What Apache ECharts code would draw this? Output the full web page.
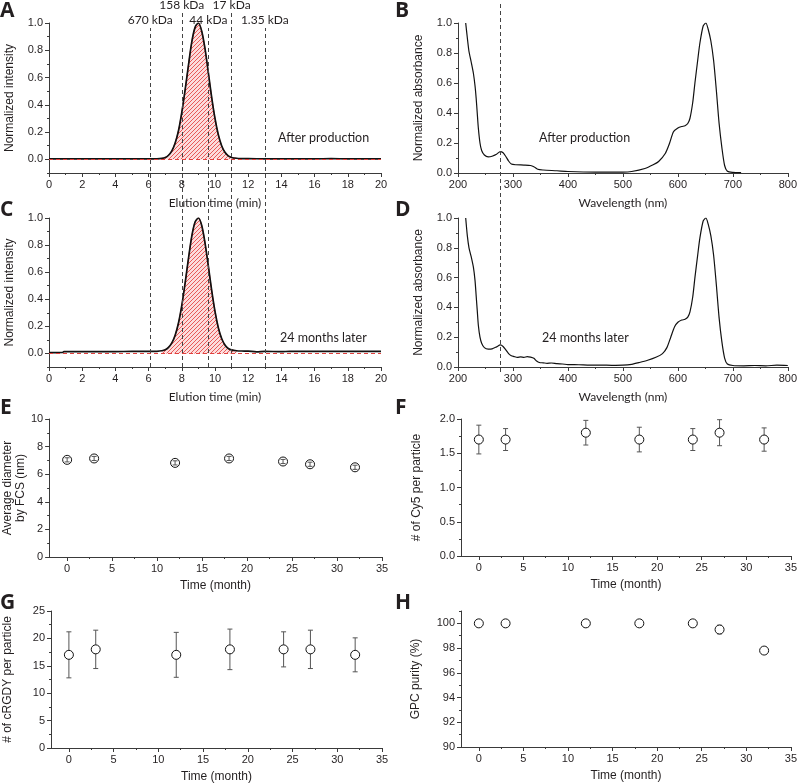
<!DOCTYPE html>
<html><head><meta charset="utf-8">
<script src="https://cdn.jsdelivr.net/npm/echarts@6/dist/echarts.min.js"></script>
<style>html,body{margin:0;padding:0;background:#fff}#c{width:800px;height:784px}</style>
</head><body><div id="c"></div>
<script>
// ---------------- DATA ----------------
// Panel A: GPC elution trace, after production  [time (min), normalized intensity]
const elutionAfter = [[0,0.003],[1,0.003],[2,0.003],[3,0.003],[4,0.003],[5,0.003],[6,0.003],[6.5,0.004],[6.8,0.007],[7.0,0.013],[7.2,0.03],[7.4,0.062],[7.6,0.12],[7.8,0.21],[8.0,0.345],[8.2,0.51],[8.4,0.69],[8.6,0.86],[8.8,0.968],[9.0,1.0],[9.2,0.94],[9.4,0.81],[9.6,0.635],[9.8,0.455],[10.0,0.30],[10.2,0.18],[10.4,0.10],[10.6,0.052],[10.8,0.026],[11.0,0.014],[11.3,0.008],[11.6,0.006],[12,0.005],[13,0.004],[14,0.004],[15,0.004],[16,0.004],[17,0.005],[18,0.004],[19,0.004],[20,0.004]];
// Panel C: GPC elution trace, 24 months later
const elution24 = [[0,0.006],[0.4,0.006],[0.8,0.007],[0.9,0.013],[2,0.013],[3,0.014],[4,0.014],[5,0.015],[6,0.015],[6.5,0.016],[6.8,0.02],[7.0,0.027],[7.2,0.045],[7.4,0.078],[7.6,0.135],[7.8,0.225],[8.0,0.355],[8.2,0.52],[8.4,0.70],[8.6,0.865],[8.8,0.97],[9.0,1.0],[9.2,0.945],[9.4,0.815],[9.6,0.645],[9.8,0.465],[10.0,0.31],[10.2,0.19],[10.4,0.11],[10.6,0.062],[10.8,0.037],[11.0,0.026],[11.3,0.02],[11.6,0.018],[12,0.017],[12.5,0.012],[13,0.016],[14,0.013],[14.5,0.016],[15,0.015],[16,0.015],[17,0.015],[18,0.015],[19,0.015],[20,0.015]];
const peakWindow = [6.8, 11.3];
// Molecular weight standards (elution time, label, label row: 1 = upper)
const mwTimes = [6.1, 8.0, 9.6, 11.0, 13.0];
const mwLabels = ['670 kDa', '158 kDa', '44 kDa', '17 kDa', '1.35 kDa'];
const mwRow = [0, 1, 0, 1, 0];
// Panel B / D: absorbance spectra [wavelength (nm), normalized absorbance]
const spectrumAfter = [[214,1.0],[217,0.9],[220,0.81],[224,0.74],[228,0.665],[231,0.58],[233,0.5],[235,0.4],[237,0.3],[240,0.2],[243,0.15],[248,0.12],[255,0.108],[262,0.112],[270,0.125],[277,0.143],[282,0.135],[287,0.11],[292,0.08],[297,0.06],[305,0.055],[320,0.053],[332,0.05],[338,0.042],[345,0.025],[355,0.02],[380,0.015],[400,0.01],[450,0.006],[500,0.006],[516,0.01],[540,0.03],[555,0.055],[565,0.077],[577,0.13],[585,0.2],[592,0.275],[600,0.3],[607,0.31],[613,0.315],[618,0.33],[622,0.365],[627,0.47],[631,0.6],[636,0.75],[640,0.865],[646,0.98],[651,1.0],[655,0.96],[660,0.88],[665,0.75],[670,0.55],[675,0.33],[680,0.17],[685,0.05],[690,0.012],[700,0.004],[715,0.002]];
const spectrum24 = [[214,1.0],[217,0.88],[220,0.8],[224,0.74],[228,0.67],[231,0.58],[233,0.48],[235,0.38],[237,0.28],[240,0.2],[243,0.16],[248,0.13],[255,0.12],[262,0.122],[270,0.135],[277,0.148],[282,0.138],[287,0.115],[292,0.09],[297,0.075],[302,0.07],[308,0.065],[314,0.068],[320,0.064],[326,0.07],[332,0.066],[338,0.058],[343,0.04],[348,0.03],[355,0.028],[362,0.025],[370,0.027],[380,0.022],[390,0.02],[400,0.016],[420,0.015],[440,0.012],[460,0.013],[480,0.011],[500,0.012],[516,0.018],[530,0.03],[545,0.045],[560,0.065],[572,0.09],[580,0.13],[587,0.2],[594,0.27],[600,0.3],[607,0.315],[613,0.32],[618,0.335],[622,0.37],[627,0.47],[631,0.6],[636,0.75],[640,0.865],[646,0.98],[651,1.0],[655,0.96],[660,0.88],[665,0.75],[670,0.55],[675,0.33],[680,0.17],[685,0.06],[690,0.02],[700,0.01],[720,0.008],[740,0.01],[760,0.008],[780,0.012],[800,0.01]];
const uvMarker = [277];
// Panels E-H: stability over time
const months = [0, 3, 12, 18, 24, 27, 32];
const diameter = [7.04, 7.14, 6.82, 7.14, 6.92, 6.72, 6.50];
const diameterErr = [0.15, 0.15, 0.15, 0.15, 0.15, 0.15, 0.15];
const cy5 = [1.7, 1.7, 1.8, 1.7, 1.7, 1.8, 1.7];
const cy5Err = [0.21, 0.16, 0.18, 0.18, 0.16, 0.19, 0.17];
const crgdy = [17, 18, 17, 18, 18, 18, 17];
const crgdyErr = [4.2, 3.5, 4.1, 3.7, 3.2, 3.5, 3.1];
const purity = [100, 100, 100, 100, 100, 99.5, 97.8];
const purityErr = [0, 0, 0, 0, 0, 0.35, 0.15];
// Tick labels
const elutionTicks = [0,2,4,6,8,10,12,14,16,18,20];
const elutionMinor = [1,3,5,7,9,11,13,15,17,19];
const intensityTicks = [0,0.2,0.4,0.6,0.8,1.0];
const intensityMinor = [-0.1,0.1,0.3,0.5,0.7,0.9];
const wavelengthTicks = [200,300,400,500,600,700,800];
const wavelengthMinor = [250,350,450,550,650,750];
const absorbTicks = [0,0.2,0.4,0.6,0.8,1.0];
const absorbMinor = [0.1,0.3,0.5,0.7,0.9];
const monthTicks = [0,5,10,15,20,25,30,35];
const monthMinor = [2.5,7.5,12.5,17.5,22.5,27.5,32.5];
const diameterTicks = [0,2,4,6,8,10];
const diameterMinor = [1,3,5,7,9];
const cy5Ticks = [0,0.5,1.0,1.5,2.0];
const cy5Minor = [0.25,0.75,1.25,1.75];
const crgdyTicks = [0,5,10,15,20,25];
const crgdyMinor = [2.5,7.5,12.5,17.5,22.5];
const purityTicks = [90,92,94,96,98,100];
const purityMinor = [91,93,95,97,99,101];

// ---------------- CHART ----------------
const FONT = 'Liberation Sans';
const HUM = 'Lato';
const INK = '#231f20';
const AX = '#3a3a3a';

function makeHatch() {
  const c = document.createElement('canvas');
  c.width = 4; c.height = 4;
  const g = c.getContext('2d');
  g.fillStyle = '#fcdcdc'; g.fillRect(0, 0, 4, 4);
  g.strokeStyle = '#e85a58'; g.lineWidth = 1;
  g.beginPath();
  g.moveTo(0, 4); g.lineTo(4, 0);
  g.moveTo(-1, 1); g.lineTo(1, -1);
  g.moveTo(3, 5); g.lineTo(5, 3);
  g.stroke();
  return c;
}
const hatch = {image: makeHatch(), repeat: 'repeat'};

const grids = [], xAxes = [], yAxes = [], series = [];

function mainAxis(gi, a, dim) {
  return {
    type: 'value', gridIndex: gi, min: a.min, max: a.max,
    position: dim === 'x' ? 'bottom' : 'left',
    axisLine: {show: true, onZero: false, lineStyle: {color: AX, width: 1}},
    axisTick: {show: true, inside: false, length: 4, customValues: a.major, lineStyle: {color: AX, width: 1}},
    axisLabel: {show: true, customValues: a.major, formatter: a.fmt, fontFamily: FONT, fontSize: 11, color: INK, margin: 6},
    splitLine: {show: false},
    name: a.name, nameLocation: 'middle', nameGap: a.gap, nameRotate: dim === 'y' ? 90 : 0,
    nameTextStyle: {fontFamily: a.nameFont || FONT, fontSize: 12, color: INK, lineHeight: 13}
  };
}
function minorAxis(gi, a, dim) {
  return {
    type: 'value', gridIndex: gi, min: a.min, max: a.max,
    position: dim === 'x' ? 'bottom' : 'left',
    axisLine: {show: false, onZero: false},
    axisTick: {show: true, inside: false, length: 2, customValues: a.minor, lineStyle: {color: AX, width: 1}},
    axisLabel: {show: false},
    splitLine: {show: false}
  };
}
function panel(box, xa, ya) {
  const gi = grids.length;
  grids.push({left: box[0], top: box[1], width: box[2] - box[0], height: box[3] - box[1]});
  const xi = xAxes.length, yi = yAxes.length;
  xAxes.push(mainAxis(gi, xa, 'x')); xAxes.push(minorAxis(gi, xa, 'x'));
  yAxes.push(mainAxis(gi, ya, 'y')); yAxes.push(minorAxis(gi, ya, 'y'));
  return {gi, xi, yi};
}
function overlay(box, xmin, xmax) {
  const gi = grids.length;
  grids.push({left: box[0], top: box[1], width: box[2] - box[0], height: box[3] - box[1]});
  const xi = xAxes.length, yi = yAxes.length;
  xAxes.push({type: 'value', gridIndex: gi, min: xmin, max: xmax, show: false});
  yAxes.push({type: 'value', gridIndex: gi, min: 0, max: 1, show: false});
  return {gi, xi, yi};
}

const f1 = v => v.toFixed(1);
const f0 = v => String(v);

function elutionPanel(box, data) {
  const p = panel(box,
    {min: 0, max: 20, major: elutionTicks, minor: elutionMinor, fmt: f0, name: 'Elution time (min)', gap: 24, nameFont: HUM},
    {min: -0.1, max: 1.0, major: intensityTicks, minor: intensityMinor, fmt: f1, name: 'Normalized intensity', gap: 33});
  series.push({
    type: 'line', xAxisIndex: p.xi, yAxisIndex: p.yi, z: 2, silent: true,
    data: data.filter(d => d[0] >= peakWindow[0] && d[0] <= peakWindow[1]),
    showSymbol: false, smooth: 0.3,
    lineStyle: {width: 1, color: '#e0403e'},
    areaStyle: {color: hatch, origin: 0, opacity: 1},
    markLine: {silent: true, symbol: 'none', label: {show: false},
      lineStyle: {color: '#e0403e', type: [4, 3], width: 1}, data: [{yAxis: 0}]}
  });
  series.push({
    type: 'line', xAxisIndex: p.xi, yAxisIndex: p.yi, z: 3, silent: true,
    data: data, showSymbol: false, smooth: 0.3,
    lineStyle: {width: 1.7, color: '#111'}
  });
}
function spectrumPanel(box, data) {
  const p = panel(box,
    {min: 200, max: 800, major: wavelengthTicks, minor: wavelengthMinor, fmt: f0, name: 'Wavelength (nm)', gap: 24, nameFont: HUM},
    {min: 0, max: 1.0, major: absorbTicks, minor: absorbMinor, fmt: f1, name: 'Normalized absorbance', gap: 33});
  series.push({
    type: 'line', xAxisIndex: p.xi, yAxisIndex: p.yi, z: 3, silent: true,
    data: data, showSymbol: false, smooth: 0.25,
    lineStyle: {width: 1.2, color: '#111'}
  });
}
function stabilityPanel(box, ya, vals, errs, barsOnTop) {
  const p = panel(box,
    {min: -2, max: 35, major: monthTicks, minor: monthMinor, fmt: f0, name: 'Time (month)', gap: 22},
    ya);
  series.push({
    type: 'custom', xAxisIndex: p.xi, yAxisIndex: p.yi, z: barsOnTop ? 5 : 3, silent: true,
    data: months.map((m, i) => [m, vals[i] - errs[i], vals[i] + errs[i]]),
    renderItem(params, api) {
      const lo = api.coord([api.value(0), api.value(1)]);
      const hi = api.coord([api.value(0), api.value(2)]);
      const w = 2.5, st = {stroke: '#555', lineWidth: 1};
      return {type: 'group', children: [
        {type: 'line', shape: {x1: lo[0], y1: lo[1], x2: hi[0], y2: hi[1]}, style: st},
        {type: 'line', shape: {x1: lo[0] - w, y1: lo[1], x2: lo[0] + w, y2: lo[1]}, style: st},
        {type: 'line', shape: {x1: hi[0] - w, y1: hi[1], x2: hi[0] + w, y2: hi[1]}, style: st}
      ]};
    }
  });
  series.push({
    type: 'scatter', xAxisIndex: p.xi, yAxisIndex: p.yi, z: 4, silent: true,
    data: months.map((m, i) => [m, vals[i]]),
    symbol: 'circle', symbolSize: 9,
    itemStyle: {color: '#fff', borderColor: '#111', borderWidth: 1, opacity: 1}
  });
}

elutionPanel([49, 23, 381, 173], elutionAfter);
spectrumPanel([458, 23, 790, 173], spectrumAfter);
elutionPanel([49, 218, 381, 367], elution24);
spectrumPanel([458, 218, 790, 367], spectrum24);
stabilityPanel([49, 419, 382, 557], {min: 0, max: 10, major: diameterTicks, minor: diameterMinor, fmt: f0, name: 'Average diameter\nby FCS (nm)', gap: 22}, diameter, diameterErr, true);
stabilityPanel([461, 419, 794, 556], {min: 0, max: 2.0, major: cy5Ticks, minor: cy5Minor, fmt: f1, name: '# of Cy5 per particle', gap: 38}, cy5, cy5Err, false);
stabilityPanel([49, 611, 382, 748], {min: 0, max: 25, major: crgdyTicks, minor: crgdyMinor, fmt: f0, name: '# of cRGDY per particle', gap: 37}, crgdy, crgdyErr, false);
stabilityPanel([461, 611, 794, 747], {min: 90, max: 101, major: purityTicks, minor: purityMinor, fmt: f0, name: 'GPC purity (%)', gap: 39}, purity, purityErr, false);

// Dashed marker lines spanning panels A and C (two label rows), and B and D
const dashStyle = {color: '#444', type: [4, 3], width: 1};
function markerLines(box, xmin, xmax, xs, names) {
  const o = overlay(box, xmin, xmax);
  series.push({
    type: 'line', xAxisIndex: o.xi, yAxisIndex: o.yi, data: [], z: 6, silent: true,
    markLine: {
      silent: true, symbol: 'none', lineStyle: dashStyle,
      label: {show: !!names, position: 'end', formatter: '{b}', fontFamily: HUM, fontSize: 12, color: INK, distance: 2},
      data: xs.map((x, i) => ({xAxis: x, name: names ? names[i] : ''}))
    }
  });
}
markerLines([49, 13, 381, 367], 0, 20, mwTimes.filter((t, i) => mwRow[i] === 1), mwLabels.filter((t, i) => mwRow[i] === 1));
markerLines([49, 28, 381, 367], 0, 20, mwTimes.filter((t, i) => mwRow[i] === 0), mwLabels.filter((t, i) => mwRow[i] === 0));
markerLines([458, 1, 790, 372], 200, 800, uvMarker, null);

// Panel letters and annotations
const letterFont = 'bold 21px "Open Sans"';
const noteFont = '12.5px Lato';
function txt(x, y, t, font) {
  return {type: 'text', x: x, y: y, z: 10, silent: true,
    style: {text: t, font: font, fill: INK, align: 'left', verticalAlign: 'middle'}};
}
const graphic = [
  txt(0, 11, 'A', letterFont), txt(395, 11, 'B', letterFont),
  txt(0, 210, 'C', letterFont), txt(395, 210, 'D', letterFont),
  txt(0, 408, 'E', letterFont), txt(395, 408, 'F', letterFont),
  txt(0, 603, 'G', letterFont), txt(395, 603, 'H', letterFont),
  txt(278, 138, 'After production', noteFont),
  txt(539, 138, 'After production', noteFont),
  txt(280, 338, '24 months later', noteFont),
  txt(542, 338, '24 months later', noteFont)
];

const chart = echarts.init(document.getElementById('c'), null, {renderer: 'canvas'});
chart.setOption({
  animation: false,
  backgroundColor: '#fff',
  grid: grids, xAxis: xAxes, yAxis: yAxes, series: series, graphic: graphic
});
</script>
</body></html>
